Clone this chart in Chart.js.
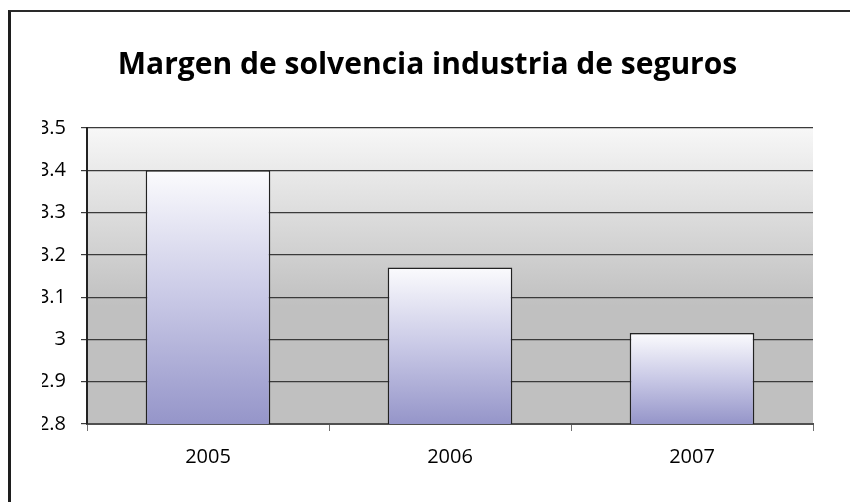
<!DOCTYPE html>
<html lang="es">
<head>
<meta charset="utf-8">
<title>Margen de solvencia industria de seguros</title>
<script src="https://cdn.jsdelivr.net/npm/chart.js@4.4.1/dist/chart.umd.min.js"></script>
<style>
    html, body {
        margin: 0;
        padding: 0;
        background: #ffffff;
        overflow: hidden;
    }
    .wrap {
        position: relative;
        width: 850px;
        height: 502px;
    }
    /* marco del gráfico, cortado a la derecha y abajo */
    .frame {
        position: absolute;
        left: 8px;
        top: 10px;
        width: 900px;
        height: 600px;
        border-top: 2px solid #2a2a2a;
        border-left: 3px solid #1e1e1e;
        pointer-events: none;
    }
    canvas {
        position: absolute;
        left: 0;
        top: 0;
    }
</style>
</head>
<body>
<div class="wrap">
    <canvas id="solvenciaChart" width="850" height="502"></canvas>
    <div class="frame"></div>
</div>
<script>
const chartTitle = 'Margen de solvencia industria de seguros';
const years = ['2005', '2006', '2007'];
const margen = [3.40, 3.17, 3.015];
const yTicks = [2.8, 2.9, 3.0, 3.1, 3.2, 3.3, 3.4, 3.5];
const yTickLabels = ['2.8', '2.9', '3', '3.1', '3.2', '3.3', '3.4', '3.5'];

const FONT = "'Open Sans', 'DejaVu Sans', sans-serif";

// Fondo del área de trazado: degradado claro arriba, gris abajo
const plotBackground = {
    id: 'plotBackground',
    beforeDraw(chart) {
        const { ctx, chartArea } = chart;
        if (!chartArea) return;
        const g = ctx.createLinearGradient(0, chartArea.top, 0, chartArea.bottom);
        g.addColorStop(0, '#f7f7f7');
        g.addColorStop(0.6, '#c0c0c0');
        g.addColorStop(1, '#c0c0c0');
        ctx.save();
        ctx.fillStyle = g;
        ctx.fillRect(chartArea.left, chartArea.top, chartArea.right - chartArea.left, chartArea.bottom - chartArea.top);
        ctx.restore();
    }
};

// Cada barra con su propio degradado blanco -> lila
function barGradient(context) {
    const chart = context.chart;
    const yScale = chart.scales.y;
    if (!chart.chartArea || !yScale || context.parsed === undefined) return '#b4b4dc';
    const top = yScale.getPixelForValue(context.parsed.y);
    const bottom = yScale.getPixelForValue(yScale.min);
    if (!isFinite(top) || !isFinite(bottom) || top === bottom) return '#b4b4dc';
    const g = chart.ctx.createLinearGradient(0, top, 0, bottom);
    g.addColorStop(0, '#fbfbfd');
    g.addColorStop(0.5, '#c9c9e6');
    g.addColorStop(1, '#9595c9');
    return g;
}

const ctx = document.getElementById('solvenciaChart').getContext('2d');

new Chart(ctx, {
    type: 'bar',
    data: {
        labels: years,
        datasets: [{
            data: margen,
            backgroundColor: barGradient,
            borderColor: '#222222',
            borderWidth: 1.5,
            borderSkipped: false,
            barPercentage: 0.515,
            categoryPercentage: 1.0
        }]
    },
    options: {
        responsive: false,
        animation: false,
        layout: {
            padding: { left: 42, right: 37, top: 0, bottom: 10 }
        },
        plugins: {
            legend: { display: false },
            tooltip: { enabled: false },
            title: {
                display: true,
                text: chartTitle,
                color: '#000000',
                font: { family: FONT, size: 30, weight: 'bold', lineHeight: 1.2 },
                padding: { top: 47, bottom: 45 }
            }
        },
        scales: {
            x: {
                grid: {
                    offset: true,
                    drawOnChartArea: false,
                    drawTicks: true,
                    tickLength: 7,
                    color: '#707070'
                },
                border: { display: true, color: '#505050', width: 2 },
                ticks: {
                    color: '#000000',
                    padding: 14,
                    font: { family: FONT, size: 20 }
                },
                afterFit(scale) {
                    scale.height = 68;
                }
            },
            y: {
                min: 2.8,
                max: 3.5,
                afterBuildTicks(scale) {
                    scale.ticks = yTicks.map(v => ({ value: v }));
                },
                grid: {
                    color: '#3a3a3a',
                    lineWidth: 1.2,
                    tickLength: 6
                },
                border: { display: true, color: '#222222', width: 2 },
                ticks: {
                    color: '#000000',
                    padding: 15,
                    font: { family: FONT, size: 20 },
                    callback: function (value) {
                        const i = yTicks.findIndex(t => Math.abs(t - value) < 1e-6);
                        return i >= 0 ? yTickLabels[i] : '';
                    }
                },
                afterFit(scale) {
                    scale.width = 45;
                }
            }
        }
    },
    plugins: [plotBackground]
});
</script>
</body>
</html>
